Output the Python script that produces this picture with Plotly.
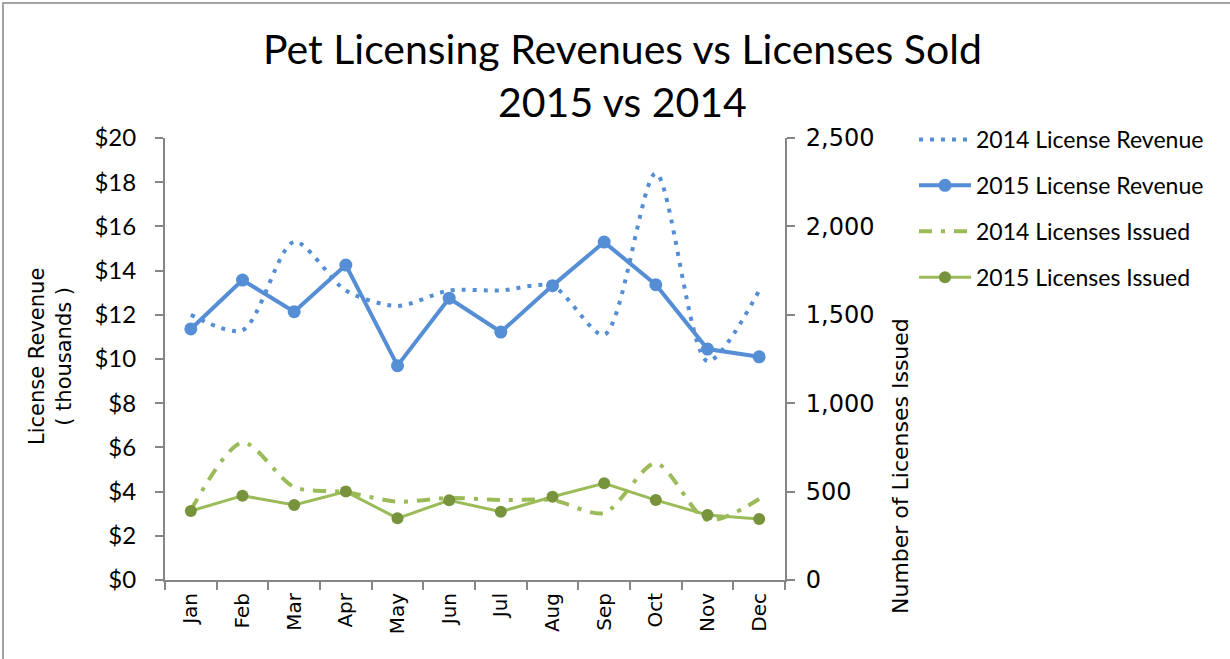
import plotly.graph_objects as go

months = ["Jan", "Feb", "Mar", "Apr", "May", "Jun", "Jul", "Aug", "Sep", "Oct", "Nov", "Dec"]
rev_2014 = [12.0, 11.3, 15.3, 13.1, 12.4, 13.1, 13.1, 13.3, 11.1, 18.4, 9.9, 13.1]
rev_2015 = [11.36, 13.57, 12.14, 14.25, 9.70, 12.75, 11.22, 13.32, 15.29, 13.36, 10.45, 10.10]
lic_2014 = [395, 778, 526, 497, 443, 464, 452, 452, 379, 660, 339, 458]
lic_2015 = [390, 477, 424, 500, 349, 451, 386, 471, 547, 452, 368, 345]
left_ticks = [0, 2, 4, 6, 8, 10, 12, 14, 16, 18, 20]
right_ticks = [0, 500, 1000, 1500, 2000, 2500]

FONT = "Lato"
FONT2 = "DejaVu Sans"
BLUE = "#558ED5"
GREEN = "#9BBB59"
DGREEN = "#77933C"
AXIS = "#868686"

fig = go.Figure()
fig.add_trace(go.Scatter(x=months, y=rev_2014, name="2014 License Revenue", mode="lines",
                         line=dict(color=BLUE, width=4, dash="4px,7px", shape="spline", smoothing=0.8),
                         legendgroup="a"))
fig.add_trace(go.Scatter(x=months, y=rev_2015, name="2015 License Revenue", mode="lines+markers",
                         line=dict(color=BLUE, width=4), marker=dict(size=13, color=BLUE),
                         legendgroup="b"))
fig.add_trace(go.Scatter(x=months, y=lic_2014, name="2014 Licenses Issued", mode="lines", yaxis="y2",
                         line=dict(color=GREEN, width=4, dash="13px,9px,4px,9px", shape="spline", smoothing=0.8),
                         legendgroup="c"))
fig.add_trace(go.Scatter(x=months, y=lic_2015, name="2015 Licenses Issued", mode="lines+markers", yaxis="y2",
                         line=dict(color=GREEN, width=3), marker=dict(size=12, color=DGREEN),
                         legendgroup="d"))

L, R, T, B = 165, 785, 138, 580
W, H = 1230, 659
pw, ph = R - L, B - T

def px(x):
    return (x - L) / pw

def py(y):
    return (B - y) / ph

fig.update_layout(
    width=W, height=H,
    margin=dict(l=L, r=W - R, t=T, b=H - B, pad=0),
    paper_bgcolor="white", plot_bgcolor="white",
    font=dict(family=FONT, size=22, color="black"),
    xaxis=dict(type="category", showline=True, linecolor=AXIS, linewidth=2,
               ticks="outside", tickson="boundaries", ticklen=8, tickcolor=AXIS, tickwidth=2,
               tickangle=-90, showgrid=False, tickfont=dict(size=20, family=FONT2),
               ticklabelstandoff=3, range=[-0.5, 11.5]),
    yaxis=dict(range=[0, 20], tickvals=left_ticks, ticktext=["$" + str(v) for v in left_ticks],
               showline=True, linecolor=AXIS, linewidth=2, ticks="outside", ticklen=8,
               tickcolor=AXIS, tickwidth=2, showgrid=False, zeroline=False,
               ticklabelstandoff=14, tickfont=dict(size=24, family=FONT)),
    yaxis2=dict(range=[0, 2500], tickvals=right_ticks, ticktext=[f"{v:,}" for v in right_ticks],
                overlaying="y", side="right", showline=True, linecolor=AXIS, linewidth=2,
                ticks="outside", ticklen=8, tickcolor=AXIS, tickwidth=2, showgrid=False,
                zeroline=False, ticklabelstandoff=6, tickfont=dict(size=24, family=FONT2)),
    legend=dict(x=px(914), y=py(118), xanchor="left", yanchor="top", traceorder="grouped",
                tracegroupgap=13, itemwidth=52, font=dict(size=23), bgcolor="rgba(0,0,0,0)"),
    showlegend=True,
)

fig.add_annotation(text="Pet Licensing Revenues vs Licenses Sold<br>2015 vs 2014",
                   xref="paper", yref="paper", x=px(622), y=py(75), xanchor="center", yanchor="middle",
                   showarrow=False, font=dict(size=41, family=FONT, color="black"))
fig.add_annotation(text="License Revenue<br>( thousands )", xref="paper", yref="paper",
                   x=px(50), y=py(357), xanchor="center", yanchor="middle",
                   showarrow=False, textangle=-90,
                   font=dict(size=21, family=FONT2, color="black"))
fig.add_annotation(text="Number of Licenses Issued", xref="paper", yref="paper",
                   x=px(900), y=py(466), xanchor="center", yanchor="middle",
                   showarrow=False, textangle=-90,
                   font=dict(size=22, family=FONT2, color="black"))

fig.add_shape(type="rect", xref="paper", yref="paper",
              x0=px(3), x1=px(1260), y0=py(720), y1=py(3),
              line=dict(color=AXIS, width=1.5), fillcolor="rgba(0,0,0,0)", layer="below")

fig.write_html("out.html", post_script="document.body.style.margin='0';",
               config={"displayModeBar": False})
